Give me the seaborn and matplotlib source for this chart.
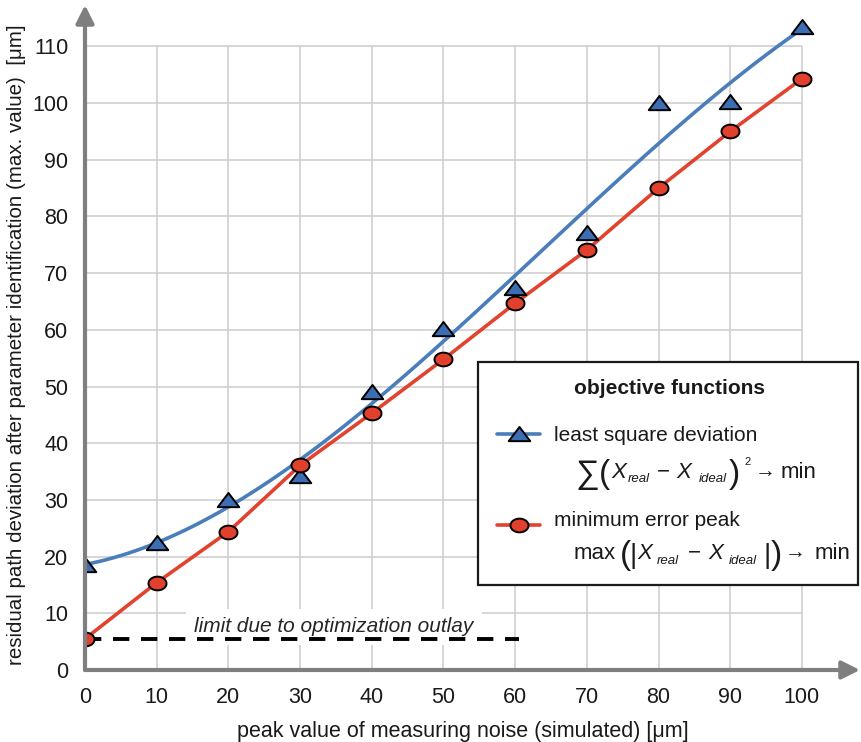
import numpy as np
import pandas as pd
import matplotlib
matplotlib.use("Agg")
import matplotlib.pyplot as plt
from matplotlib.path import Path
from matplotlib.lines import Line2D
from matplotlib.patches import Rectangle
import seaborn as sns

# measured data
noise = [0, 10, 20, 30, 40, 50, 60, 70, 80, 90, 100]
least_square = [18.5, 22.4, 30.0, 34.2, 49.0, 60.2, 67.3, 77.0, 100.0, 100.2, 113.5]
min_error_peak = [5.5, 15.4, 24.4, 36.1, 45.3, 54.8, 64.7, 74.1, 85.0, 95.0, 104.3]
limit_value = 5.5
limit_end = 60.5
x_ticks = [0, 10, 20, 30, 40, 50, 60, 70, 80, 90, 100]
y_ticks = [0, 10, 20, 30, 40, 50, 60, 70, 80, 90, 100, 110]

df = pd.DataFrame({"noise": noise, "lsq": least_square, "mep": min_error_peak})

sns.set_theme(style="white")
plt.rcParams["font.family"] = ["Liberation Sans", "DejaVu Sans"]

BLUE_LINE = "#4a7ebb"
BLUE_FILL = "#3d6db3"
RED_LINE = "#e2432e"
RED_FILL = "#e0402c"
AXIS_GREY = "#7f7f7f"
GRID_GREY = "#cfcfcf"
INK = "#1a1a1a"

# flattened triangle and ellipse markers
tri = Path([(-1, -0.62), (1, -0.62), (0, 0.7), (-1, -0.62)],
           [Path.MOVETO, Path.LINETO, Path.LINETO, Path.CLOSEPOLY])
t = np.linspace(0, 2 * np.pi, 60)
ell = Path(np.column_stack([np.cos(t), 0.76 * np.sin(t)]))

W, H = 861, 742
fig = plt.figure(figsize=(W / 100, H / 100), dpi=100)
ax = fig.add_axes([85 / W, 1 - 670 / H, (860 - 85) / W, (670 - 5) / H])
ax.set_xlim(0, 108.1)
ax.set_ylim(0, 117.3)

# grid box limited to 0..100 x 0..110
ax.vlines(x_ticks[1:], 0, 110, color=GRID_GREY, lw=1.2, zorder=0)
ax.hlines(y_ticks[1:], 0, 100, color=GRID_GREY, lw=1.2, zorder=0)

# least square deviation: polynomial trend plus markers
sns.regplot(data=df, x="noise", y="lsq", order=3, ci=None, scatter=False,
            line_kws=dict(color=BLUE_LINE, lw=2.6, zorder=3), ax=ax)
sns.scatterplot(data=df, x="noise", y="lsq", marker=tri, s=15.5 ** 2,
                color=BLUE_FILL, edgecolor="black", linewidth=1.4, zorder=5, ax=ax)

# minimum error peak
sns.lineplot(data=df, x="noise", y="mep", color=RED_LINE, lw=2.6, zorder=3, ax=ax)
sns.scatterplot(data=df, x="noise", y="mep", marker=ell, s=13 ** 2,
                color=RED_FILL, edgecolor="black", linewidth=1.4, zorder=6, ax=ax)

# optimisation limit
ax.text(34.7, 7.6, "limit due to optimization outlay", style="italic",
        fontsize=15, ha="center", va="center", zorder=2,
        bbox=dict(facecolor="white", edgecolor="none", pad=6))
ax.plot([0, limit_end], [limit_value, limit_value], color="black", lw=2.8,
        dashes=(4.2, 3.0), zorder=4)

# axes with arrow heads
for s in ax.spines.values():
    s.set_visible(False)
for tip in [(1.0, 0), (0, 1.0)]:
    ax.annotate("", xy=tip, xytext=(0, 0), xycoords="axes fraction",
                arrowprops=dict(arrowstyle="-|>,head_length=0.9,head_width=0.45",
                                color=AXIS_GREY, lw=3, shrinkA=0, shrinkB=0), zorder=7)

ax.set_xticks(x_ticks)
ax.set_yticks(y_ticks)
ax.tick_params(axis="both", length=0, labelsize=15.5, colors=INK)
ax.tick_params(axis="x", pad=12)
ax.tick_params(axis="y", pad=12)
ax.set_xlabel("peak value of measuring noise (simulated) [\u03bcm]", fontsize=15.5, color=INK)
ax.xaxis.label.set_verticalalignment("top")
ax.xaxis.set_label_coords((463 - 85) / 775, -(721 - 670) / 665)
ax.set_ylabel("residual path deviation after parameter identification (max. value)  [\u03bcm]",
              fontsize=14.8, color=INK)
ax.yaxis.set_label_coords(-59 / 775, 0.489)

# legend panel, laid out in pixel coordinates
def fx(px):
    return px / W

def fy(py):
    return 1 - py / H

def put(px, py, s, size, **kw):
    fig.text(fx(px), fy(py), s, fontsize=size, ha="left", va="baseline",
             color=INK, zorder=11, **kw)

fig.patches.append(Rectangle((fx(478), fy(585)), fx(858) - fx(478), fy(362) - fy(585),
                             transform=fig.transFigure, facecolor="white",
                             edgecolor=INK, lw=1.6, zorder=10))
fig.text(fx(670), fy(388), "objective functions", fontsize=15, fontweight="bold",
         ha="center", va="center", color=INK, zorder=11)

fig.lines.append(Line2D([fx(497), fx(540)], [fy(434), fy(434)], transform=fig.transFigure,
                        color=BLUE_LINE, lw=2.6, zorder=11))
fig.lines.append(Line2D([fx(519)], [fy(434)], transform=fig.transFigure, marker=tri,
                        markersize=15.5, markerfacecolor=BLUE_FILL, markeredgecolor="black",
                        markeredgewidth=1.4, zorder=12))
put(554, 441, "least square deviation", 15)

# sum of squared deviations -> min
put(575, 483, "\u2211", 24)
put(599, 483, "(", 24)
put(611, 478, "X", 16, style="italic")
put(628, 482, "real", 9.5, style="italic")
put(657, 477, "\u2212", 16)
put(676, 478, "X", 16, style="italic")
put(699, 482, "ideal", 9.5, style="italic")
put(729, 483, ")", 24)
put(744, 465, "2", 8)
put(755, 477, "\u2192", 15)
put(781, 478, "min", 16)

fig.lines.append(Line2D([fx(497), fx(540)], [fy(525), fy(525)], transform=fig.transFigure,
                        color=RED_LINE, lw=2.6, zorder=11))
fig.lines.append(Line2D([fx(519)], [fy(525)], transform=fig.transFigure, marker=ell,
                        markersize=13, markerfacecolor=RED_FILL, markeredgecolor="black",
                        markeredgewidth=1.4, zorder=12))
put(554, 526, "minimum error peak", 15)

# max |deviation| -> min
put(574, 559, "max", 16)
put(620, 564, "(", 24)
put(630, 563, "|", 20)
put(637, 559, "X", 16, style="italic")
put(657, 564, "real", 9.5, style="italic")
put(688, 558, "\u2212", 16)
put(708, 559, "X", 16, style="italic")
put(729, 564, "ideal", 9.5, style="italic")
put(763, 563, "|", 20)
put(771, 564, ")", 24)
put(785, 558, "\u2192", 15)
put(815, 559, "min", 16)

fig.savefig("out.png", dpi=100, facecolor="white")
